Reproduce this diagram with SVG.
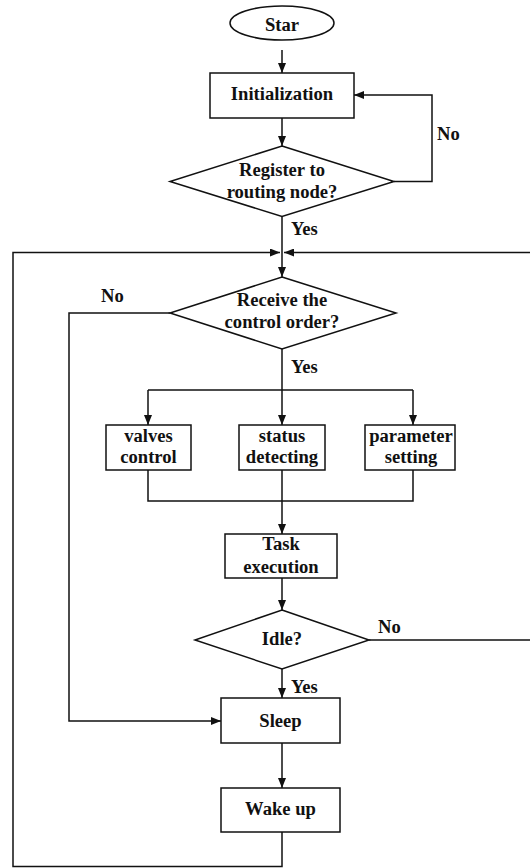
<svg xmlns="http://www.w3.org/2000/svg" width="530" height="868" viewBox="0 0 530 868">
<style>
text{font-family:"Liberation Serif","Times New Roman",serif;font-weight:bold;font-size:18.6px;fill:#111}
.c{text-anchor:middle}
.s{fill:#fff;stroke:#111;stroke-width:1.5}
.ln{fill:none;stroke:#111;stroke-width:1.5}
</style>
<defs>
<marker id="ah" markerUnits="userSpaceOnUse" markerWidth="10" markerHeight="8" refX="10" refY="4" orient="auto">
<path d="M0,0 L10,4 L0,8 z" fill="#111"/>
</marker>
</defs>
<rect width="530" height="868" fill="#fff"/>
<g id="connectors">
<path class="ln" d="M282,50 L282,73" marker-end="url(#ah)"/>
<path class="ln" d="M282,118 L282,146" marker-end="url(#ah)"/>
<path class="ln" d="M394,181.5 L432,181.5 L432,95 L354,95" marker-end="url(#ah)"/>
<path class="ln" d="M282,216.5 L282,277" marker-end="url(#ah)"/>
<path class="ln" d="M282,832 L282,866.5 L13,866.5 L13,252.5 L280,252.5" marker-end="url(#ah)"/>
<path class="ln" d="M369,640 L540,640 L540,252.5 L284,252.5" marker-end="url(#ah)"/>
<path class="ln" d="M170,313 L69,313 L69,721 L221,721" marker-end="url(#ah)"/>
<path class="ln" d="M282,349 L282,390"/>
<path class="ln" d="M148,390 L413,390"/>
<path class="ln" d="M148,390 L148,425" marker-end="url(#ah)"/>
<path class="ln" d="M282,390 L282,425" marker-end="url(#ah)"/>
<path class="ln" d="M413,390 L413,425" marker-end="url(#ah)"/>
<path class="ln" d="M148,470 L148,501 L413,501 L413,470"/>
<path class="ln" d="M282,470 L282,534" marker-end="url(#ah)"/>
<path class="ln" d="M282,578 L282,610" marker-end="url(#ah)"/>
<path class="ln" d="M282,669 L282,698" marker-end="url(#ah)"/>
<path class="ln" d="M282,743 L282,788" marker-end="url(#ah)"/>
<text x="437" y="140">No</text>
<text x="291" y="235">Yes</text>
<text x="101" y="302">No</text>
<text x="291" y="373">Yes</text>
<text x="378" y="633">No</text>
<text x="291" y="693">Yes</text>
</g>
<g id="start">
<ellipse class="s" cx="282" cy="23" rx="52" ry="17"/>
<text class="c" x="282" y="31">Star</text>
</g>
<g id="init">
<rect class="s" x="210" y="73" width="144" height="45"/>
<text class="c" x="282" y="100">Initialization</text>
</g>
<g id="register">
<polygon class="s" points="282,146 394,181.5 282,216.5 170,181.5"/>
<text class="c" x="282" y="176">Register to</text>
<text class="c" x="282" y="198">routing node?</text>
</g>
<g id="receive">
<polygon class="s" points="282,277 396,313 282,349 170,313"/>
<text class="c" x="282" y="306">Receive the</text>
<text class="c" x="282" y="328">control order?</text>
</g>
<g id="valves">
<rect class="s" x="106" y="425" width="85" height="45"/>
<text class="c" x="148.5" y="442">valves</text>
<text class="c" x="148.5" y="463">control</text>
</g>
<g id="status">
<rect class="s" x="239" y="425" width="86" height="45"/>
<text class="c" x="282" y="442">status</text>
<text class="c" x="282" y="463">detecting</text>
</g>
<g id="parameter">
<rect class="s" x="365" y="425" width="90" height="45"/>
<text class="c" x="411" y="442">parameter</text>
<text class="c" x="411" y="463">setting</text>
</g>
<g id="task">
<rect class="s" x="225" y="534" width="112" height="44"/>
<text class="c" x="281" y="550">Task</text>
<text class="c" x="281" y="573">execution</text>
</g>
<g id="idle">
<polygon class="s" points="282,610 369,640 282,669 195,640"/>
<text class="c" x="282" y="645">Idle?</text>
</g>
<g id="sleep">
<rect class="s" x="221" y="698" width="119" height="45"/>
<text class="c" x="280.5" y="727">Sleep</text>
</g>
<g id="wake">
<rect class="s" x="221" y="788" width="119" height="44"/>
<text class="c" x="280.5" y="815">Wake up</text>
</g>
</svg>
